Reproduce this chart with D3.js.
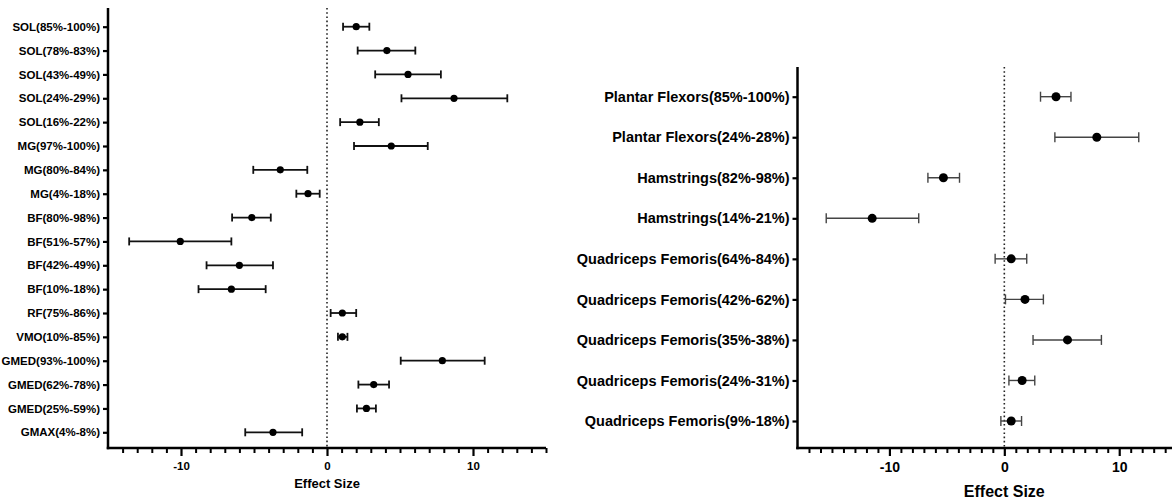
<!doctype html>
<html>
  <head>
    <meta charset="utf8">
    <script src="https://cdn.jsdelivr.net/npm/d3@7"></script>
    <style type="text/css">
      body { margin: 0; background: #fff; font-family: 'Liberation Sans', Arial, sans-serif; }
      svg { display: block; }
    </style>
  </head>
  <body>
    <script type="text/javascript">
      const W = 1172;
      const H = 500;

      // left panel: individual muscles
      const leftLabels = [
        'SOL(85%-100%)', 'SOL(78%-83%)', 'SOL(43%-49%)', 'SOL(24%-29%)', 'SOL(16%-22%)',
        'MG(97%-100%)', 'MG(80%-84%)', 'MG(4%-18%)',
        'BF(80%-98%)', 'BF(51%-57%)', 'BF(42%-49%)', 'BF(10%-18%)',
        'RF(75%-86%)', 'VMO(10%-85%)',
        'GMED(93%-100%)', 'GMED(62%-78%)', 'GMED(25%-59%)', 'GMAX(4%-8%)'
      ];
      const leftEffect = [2.0, 4.1, 5.55, 8.7, 2.25, 4.4, -3.2, -1.3, -5.15, -10.05, -6.0, -6.55, 1.05, 1.05, 7.9, 3.2, 2.7, -3.7];
      const leftLow    = [1.1, 2.1, 3.3, 5.1, 0.9, 1.85, -5.05, -2.1, -6.5, -13.55, -8.25, -8.8, 0.25, 0.75, 5.05, 2.15, 2.05, -5.6];
      const leftHigh   = [2.9, 6.05, 7.8, 12.35, 3.55, 6.9, -1.35, -0.5, -3.85, -6.55, -3.7, -4.2, 2.0, 1.4, 10.8, 4.25, 3.35, -1.7];

      // right panel: muscle groups
      const rightLabels = [
        'Plantar Flexors(85%-100%)', 'Plantar Flexors(24%-28%)',
        'Hamstrings(82%-98%)', 'Hamstrings(14%-21%)',
        'Quadriceps Femoris(64%-84%)', 'Quadriceps Femoris(42%-62%)',
        'Quadriceps Femoris(35%-38%)', 'Quadriceps Femoris(24%-31%)',
        'Quadriceps Femoris(9%-18%)'
      ];
      const rightEffect = [4.5, 8.05, -5.3, -11.5, 0.6, 1.8, 5.5, 1.55, 0.6];
      const rightLow    = [3.15, 4.4, -6.65, -15.5, -0.8, 0.1, 2.5, 0.4, -0.3];
      const rightHigh   = [5.8, 11.7, -3.9, -7.45, 1.95, 3.4, 8.45, 2.65, 1.5];

      const majorTicks = [-10, 0, 10];

      const svg = d3.select('body')
        .append('svg')
        .attr('width', W)
        .attr('height', H);

      function drawPanel(opt) {
        const rows = opt.labels.map((l, i) => ({
          label: l, effect: opt.effect[i], low: opt.low[i], high: opt.high[i]
        }));

        const x = d3.scaleLinear().domain(opt.domain).range([opt.left, opt.left + (opt.domain[1] - opt.domain[0]) * opt.pxPerUnit]);
        const y = d3.scalePoint().domain(opt.labels).range([opt.firstRow, opt.lastRow]);

        const g = svg.append('g');

        // dotted zero line
        g.append('line')
          .attr('x1', x(0)).attr('x2', x(0))
          .attr('y1', opt.top).attr('y2', opt.bottom)
          .attr('stroke', '#222')
          .attr('stroke-width', 1.6)
          .attr('stroke-dasharray', '1.6,2.6');

        // error bars
        const bars = g.selectAll('g.row')
          .data(rows)
          .enter()
          .append('g')
          .attr('class', 'row')
          .attr('stroke', opt.barColor)
          .attr('stroke-width', opt.barWidth);

        bars.append('line')
          .attr('x1', (d) => x(d.low)).attr('x2', (d) => x(d.high))
          .attr('y1', (d) => y(d.label)).attr('y2', (d) => y(d.label));
        bars.append('line')
          .attr('x1', (d) => x(d.low)).attr('x2', (d) => x(d.low))
          .attr('y1', (d) => y(d.label) - opt.cap).attr('y2', (d) => y(d.label) + opt.cap);
        bars.append('line')
          .attr('x1', (d) => x(d.high)).attr('x2', (d) => x(d.high))
          .attr('y1', (d) => y(d.label) - opt.cap).attr('y2', (d) => y(d.label) + opt.cap);

        g.selectAll('circle')
          .data(rows)
          .enter()
          .append('circle')
          .attr('cx', (d) => x(d.effect))
          .attr('cy', (d) => y(d.label))
          .attr('r', opt.r)
          .attr('fill', '#000');

        // y axis
        const yAxis = g.append('g')
          .attr('transform', `translate(${opt.left},0)`)
          .call(d3.axisLeft(y).tickSize(5).tickPadding(3));
        yAxis.select('.domain').remove();
        yAxis.selectAll('.tick line').attr('stroke', '#000').attr('stroke-width', 2.2);
        yAxis.selectAll('.tick text')
          .attr('fill', '#000')
          .attr('font-family', "'Liberation Sans', Arial, sans-serif")
          .attr('font-weight', 'bold')
          .attr('font-size', opt.labelSize);
        g.append('line')
          .attr('x1', opt.left).attr('x2', opt.left)
          .attr('y1', opt.top).attr('y2', opt.bottom + 1.25)
          .attr('stroke', '#000').attr('stroke-width', 2.5);

        // x axis: minor ticks every 1, major labelled
        const minor = d3.range(Math.ceil(opt.domain[0]) + 1, opt.domain[1] + 0.5, 1)
          .filter((v) => !majorTicks.includes(v));
        const xMinor = g.append('g')
          .attr('transform', `translate(0,${opt.bottom})`)
          .call(d3.axisBottom(x).tickValues(minor).tickSize(5).tickFormat(''));
        xMinor.select('.domain').remove();
        xMinor.selectAll('.tick line').attr('stroke', '#000').attr('stroke-width', 2);

        const xMajor = g.append('g')
          .attr('transform', `translate(0,${opt.bottom})`)
          .call(d3.axisBottom(x).tickValues(majorTicks).tickSize(8).tickPadding(opt.tickPad).tickFormat(d3.format('d')));
        xMajor.select('.domain').remove();
        xMajor.selectAll('.tick line').attr('stroke', '#000').attr('stroke-width', 2.2);
        xMajor.selectAll('.tick text')
          .attr('fill', '#000')
          .attr('font-family', "'Liberation Sans', Arial, sans-serif")
          .attr('font-weight', 'bold')
          .attr('font-size', opt.tickSize)
          .text((d) => d < 0 ? '-' + Math.abs(d) : d);

        g.append('line')
          .attr('x1', opt.left - 1.25).attr('x2', x(opt.domain[1]))
          .attr('y1', opt.bottom).attr('y2', opt.bottom)
          .attr('stroke', '#000').attr('stroke-width', 2.5);

        g.append('text')
          .attr('x', x(0))
          .attr('y', opt.titleY)
          .attr('text-anchor', 'middle')
          .attr('font-family', "'Liberation Sans', Arial, sans-serif")
          .attr('font-weight', 'bold')
          .attr('font-size', opt.titleSize)
          .attr('fill', '#000')
          .text('Effect Size');
      }

      drawPanel({
        labels: leftLabels, effect: leftEffect, low: leftLow, high: leftHigh,
        domain: [-15, 15], left: 108, pxPerUnit: 14.6,
        top: 8, bottom: 448, firstRow: 26.7, lastRow: 432.3,
        barColor: '#111', barWidth: 1.8, cap: 4, r: 3.6,
        labelSize: '11.5px', tickSize: '11.5px', tickPad: 6, titleSize: '13px', titleY: 488
      });

      drawPanel({
        labels: rightLabels, effect: rightEffect, low: rightLow, high: rightHigh,
        domain: [-18, 15], left: 797.5, pxPerUnit: 11.49,
        top: 67, bottom: 448, firstRow: 96.7, lastRow: 421,
        barColor: '#444', barWidth: 1.4, cap: 5, r: 4.5,
        labelSize: '14.5px', tickSize: '14px', tickPad: 6, titleSize: '16px', titleY: 497
      });
    </script>
  </body>
</html>
